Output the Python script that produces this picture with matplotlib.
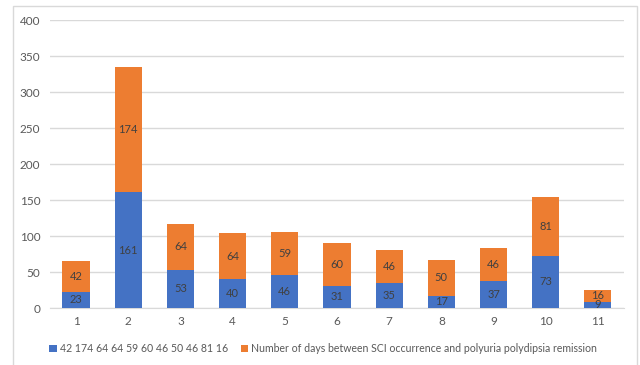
import matplotlib.pyplot as plt
import numpy as np
from matplotlib.patches import Rectangle

categories = ["1", "2", "3", "4", "5", "6", "7", "8", "9", "10", "11"]
blue_vals = [23, 161, 53, 40, 46, 31, 35, 17, 37, 73, 9]
orange_vals = [42, 174, 64, 64, 59, 60, 46, 50, 46, 81, 16]
blue_name = "42 174 64 64 59 60 46 50 46 81 16"
orange_name = "Number of days between SCI occurrence and polyuria polydipsia remission"

plt.rcParams['font.family'] = ['Lato', 'DejaVu Sans']
text_col = "#595959"

fig = plt.figure(figsize=(6.4, 3.65), dpi=100)
ax = fig.add_axes([0.078, 0.156, 0.897, 0.789])

x = np.arange(len(categories))
b1 = ax.bar(x, blue_vals, width=0.52, color="#4472C4", label=blue_name, zorder=3)
b2 = ax.bar(x, orange_vals, width=0.52, bottom=blue_vals, color="#ED7D31",
            label=orange_name, zorder=3)
ax.bar_label(b1, label_type="center", color="#404040", fontsize=8)
ax.bar_label(b2, label_type="center", color="#404040", fontsize=8)

ax.set_xlim(-0.5, len(categories) - 0.5)
ax.set_ylim(0, 400)
ax.set_yticks(range(0, 401, 50))
ax.set_xticks(x)
ax.set_xticklabels(categories)
ax.yaxis.grid(True, color="#D9D9D9", linewidth=1, zorder=0)
for s in ["top", "right", "left"]:
    ax.spines[s].set_visible(False)
ax.spines["bottom"].set_color("#D9D9D9")
ax.tick_params(axis="both", length=0, colors=text_col, labelsize=8.5)
ax.tick_params(axis="y", pad=7)
ax.tick_params(axis="x", pad=6)

fig.legend(loc="center", bbox_to_anchor=(0.505, 0.044), ncol=2, frameon=False,
           fontsize=7.6, handlelength=0.7, handleheight=0.7, handletextpad=0.3,
           columnspacing=1.2, labelcolor=text_col)

fig.patches.append(Rectangle((0.021, -0.01), 0.974, 0.994, transform=fig.transFigure,
                             fill=False, edgecolor="#D9D9D9", linewidth=1))

fig.savefig("out.png", dpi=100)
